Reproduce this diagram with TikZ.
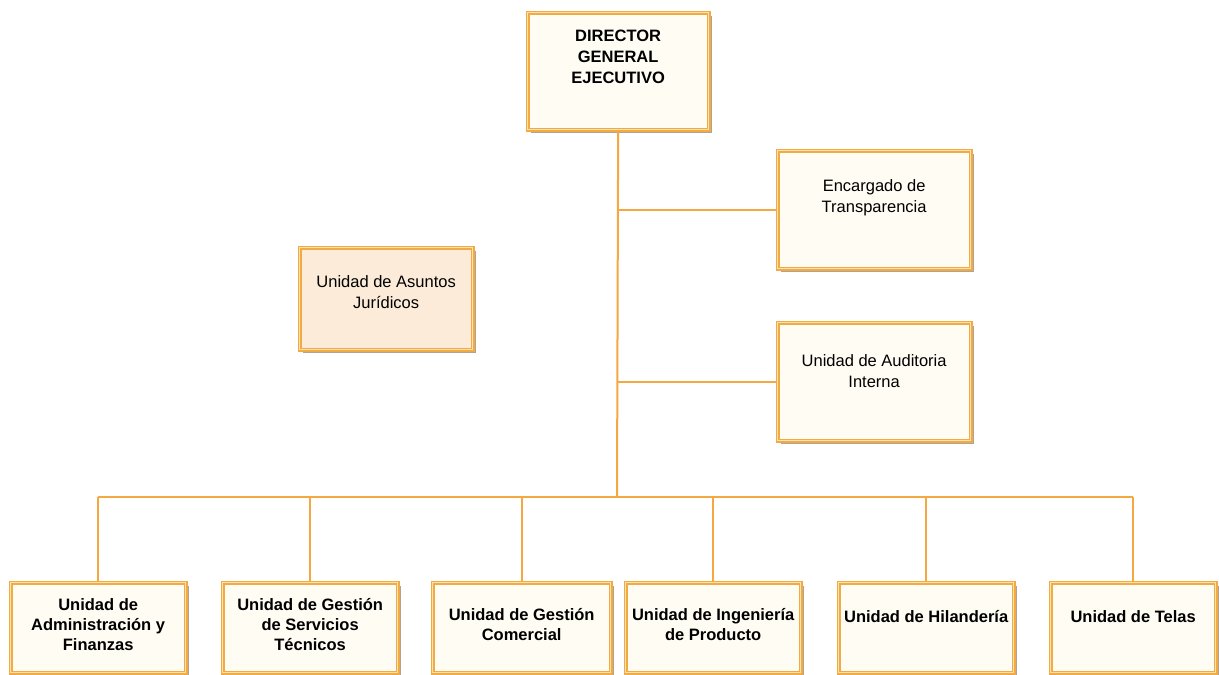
\documentclass[tikz,border=0pt]{standalone}
\usepackage{fontspec}
\setmainfont{Liberation Sans}
\usetikzlibrary{shadows}
\definecolor{bord}{HTML}{F2AA45}
\definecolor{pale}{HTML}{FBE3AE}
\definecolor{cream}{HTML}{FFFCF4}
\definecolor{peach}{HTML}{FBEBD8}
\definecolor{lineor}{HTML}{F5A742}
\definecolor{shad}{HTML}{A8988A}
\tikzset{
  box/.style={rectangle, draw=bord, line width=1.3pt, double=pale, double distance=1.2pt,
    fill=cream, anchor=north west, inner sep=0pt,
    drop shadow={shadow xshift=3.5pt, shadow yshift=-3.5pt, fill=shad, opacity=0.9}},
  lbl/.style={anchor=north, align=center, inner sep=0pt, font=\fontsize{16.5}{21}\selectfont},
  blbl/.style={lbl, font=\fontsize{16.5}{20}\selectfont\bfseries},
  conn/.style={draw=lineor, line width=2pt}
}
\begin{document}
\begin{tikzpicture}[x=1pt,y=-1pt]
\useasboundingbox[fill=white] (0,0) rectangle (1219,675);
% boxes
\node[box, minimum width=181, minimum height=117] (dir) at (527,12) {};
\node[box, minimum width=193, minimum height=118] (enc) at (777,150) {};
\node[box, fill=peach, minimum width=173, minimum height=102] (asu) at (299,247) {};
\node[box, minimum width=193, minimum height=118] (aud) at (777,322) {};
\node[box, minimum width=175, minimum height=90] (b1) at (10,582) {};
\node[box, minimum width=175, minimum height=90] (b2) at (222,582) {};
\node[box, minimum width=178, minimum height=90] (b3) at (432,582) {};
\node[box, minimum width=175, minimum height=90] (b4) at (625,582) {};
\node[box, minimum width=175, minimum height=90] (b5) at (838,582) {};
\node[box, minimum width=165, minimum height=90] (b6) at (1050,582) {};
% labels
\node[blbl, font=\fontsize{16.5}{21}\selectfont\bfseries] (dirt) at ([yshift=-18pt]dir.north) {DIRECTOR\\GENERAL\\EJECUTIVO};
\node[lbl] (enct) at ([yshift=-29pt]enc.north) {Encargado de\\Transparencia};
\node[lbl] (asut) at ([yshift=-28pt]asu.north) {Unidad de Asuntos\\Jurídicos};
\node[lbl] (audt) at ([yshift=-32pt]aud.north) {Unidad de Auditoria\\Interna};
\node[blbl] (b1t) at ([yshift=-16pt]b1.north) {Unidad de\\Administración y\\Finanzas};
\node[blbl] (b2t) at ([yshift=-16pt]b2.north) {Unidad de Gestión\\de Servicios\\Técnicos};
\node[blbl] (b3t) at ([yshift=-26pt]b3.north) {Unidad de Gestión\\Comercial};
\node[blbl] (b4t) at ([yshift=-26pt]b4.north) {Unidad de Ingeniería\\de Producto};
\node[blbl] (b5t) at ([yshift=-28pt]b5.north) {Unidad de Hilandería};
\node[blbl] (b6t) at ([yshift=-28pt]b6.north) {Unidad de Telas};
% connectors
\coordinate (bus) at (617,497);
\path[conn] (dir.south) -- (bus);
\path[conn] (dir.south |- enc.west) -- (enc.west);
\path[conn] (dir.south |- aud.west) -- (aud.west);
\path[conn] (b1.north |- bus) -- (b6.north |- bus);
\foreach \b in {b1,b2,b3,b4,b5,b6}{
  \path[conn] (\b.north |- bus) -- (\b.north);
}
\end{tikzpicture}
\end{document}
